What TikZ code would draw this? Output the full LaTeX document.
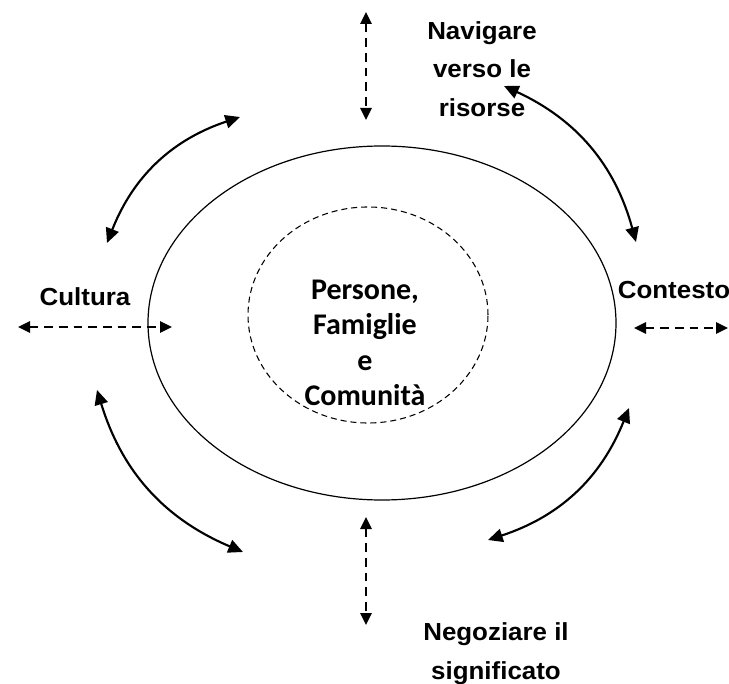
\documentclass[tikz,border=0pt]{standalone}
\usepackage{fontspec}
\setmainfont{Liberation Sans}
\newfontfamily\labelfont[FakeStretch=1.05]{Liberation Sans}
\newfontfamily\centrefont{Carlito}
\usetikzlibrary{arrows.meta}

\begin{document}
\begin{tikzpicture}[x=0.75pt, y=0.75pt,
	lbl/.style={align=center, font=\labelfont\bfseries\fontsize{18.5}{29}\selectfont},
	dasharrow/.style={{Triangle[length=9pt,width=8.5pt]}-{Triangle[length=9pt,width=8.5pt]}, line width=1.4pt, dash pattern=on 6.5pt off 4.5pt},
	bendarrow/.style={{Triangle[length=11pt,width=10pt]}-{Triangle[length=11pt,width=10pt]}, line width=1.6pt}]
	\useasboundingbox (0, 0) rectangle (729, -684);
	% the two circles
	\draw[line width=0.9pt] (382, -323) ellipse [x radius=234, y radius=177];
	\draw[line width=0.8pt, dash pattern=on 4.5pt off 3pt] (368, -315) ellipse [x radius=120, y radius=108];
	\node[align=center, font=\centrefont\bfseries\fontsize{22.5}{26.6}\selectfont] (centre) at (365, -343) {Persone,\\Famiglie\\e\\Comunità};
	% labels
	\node[lbl]		(nav)	at (482, -69)	{Navigare\\verso le\\risorse};
	\node[lbl]		(cult)	at (85, -297)	{Cultura};
	\node[lbl]		(cont)	at (674, -290)	{Contesto};
	\node[lbl]		(neg)	at (496, -654)	{Negoziare il\\significato};
	% dashed arrows
	\coordinate (t1) at (366, -12);
	\coordinate (t2) at (366, -120);
	\coordinate (b1) at (366, -517);
	\coordinate (b2) at (366, -625);
	\coordinate (l1) at (18, -327);
	\coordinate (l2) at (172, -327);
	\coordinate (r1) at (634, -328);
	\coordinate (r2) at (728, -328);
	\draw[dasharrow] (t1) -- (t2);
	\draw[dasharrow] (b1) -- (b2);
	\draw[dasharrow] (l1) -- (l2);
	\draw[dasharrow] (r1) -- (r2);
	% curved arrows
	\coordinate (tl1) at (107, -243);
	\coordinate (tl2) at (240, -117);
	\coordinate (tr1) at (504, -86);
	\coordinate (tr2) at (636, -242);
	\coordinate (bl1) at (97, -390);
	\coordinate (bl2) at (243, -552);
	\coordinate (br1) at (629, -408);
	\coordinate (br2) at (488, -540);
	\draw[bendarrow] (tl1) to[bend left=25] (tl2);
	\draw[bendarrow] (tr1) to[bend left=25] (tr2);
	\draw[bendarrow] (bl1) to[bend right=25] (bl2);
	\draw[bendarrow] (br1) to[bend left=25] (br2);
\end{tikzpicture}
\end{document}
